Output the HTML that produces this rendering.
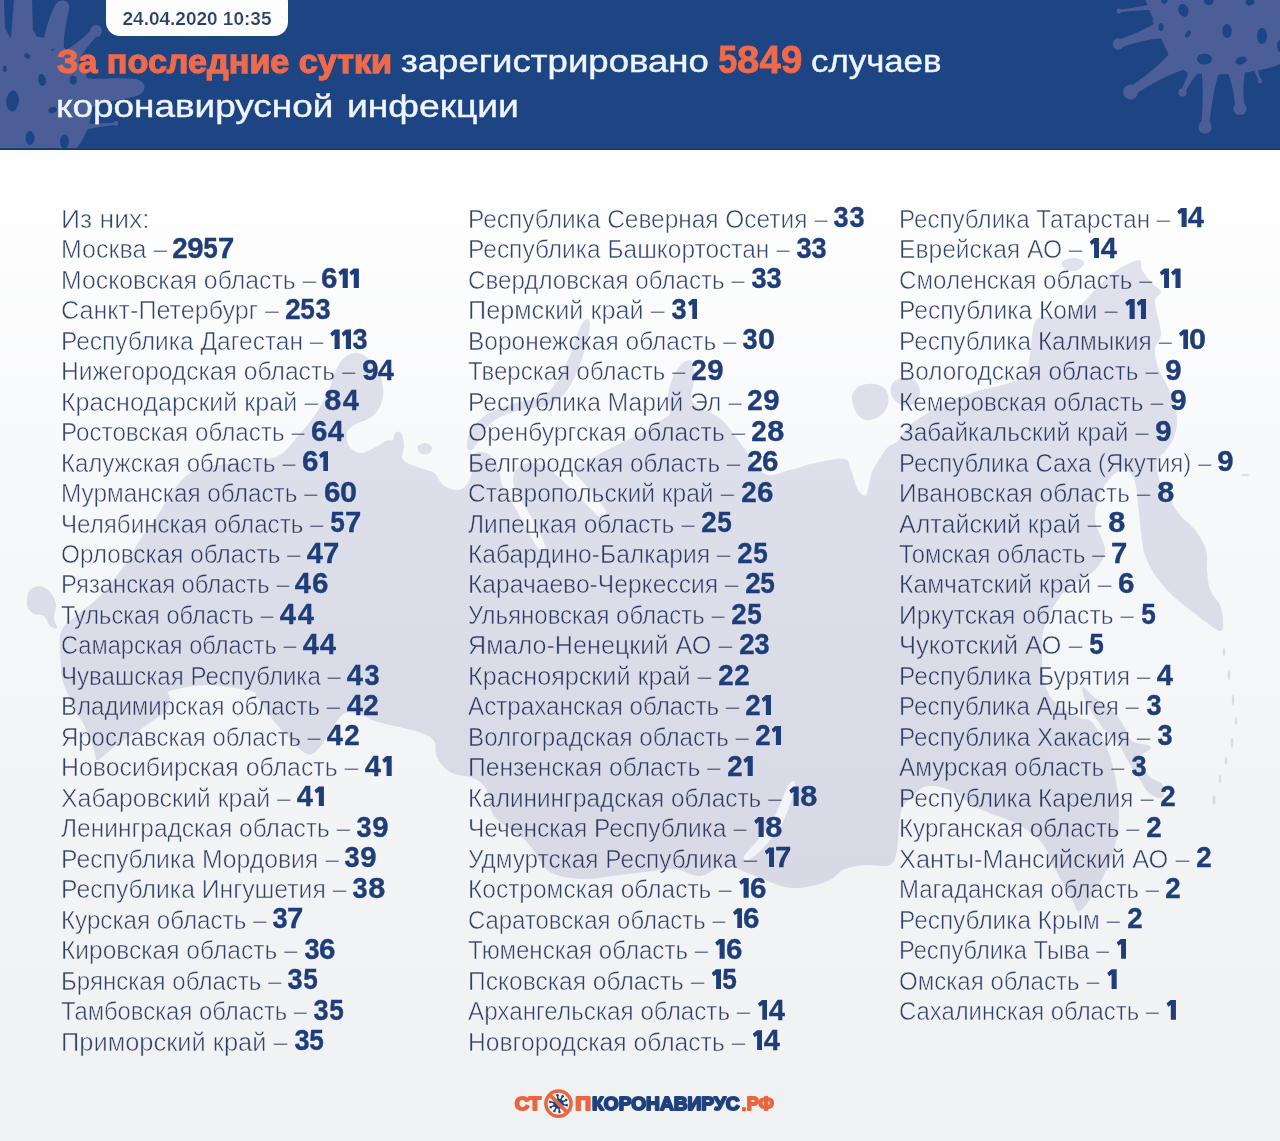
<!DOCTYPE html>
<html lang="ru">
<head>
<meta charset="utf-8">
<title>стопкоронавирус.рф</title>
<style>
html,body{margin:0;padding:0}
body{width:1280px;height:1141px;position:relative;overflow:hidden;background:#f2f3f6;font-family:"Liberation Sans",sans-serif;}
#bg{position:absolute;left:0;top:0;width:1280px;height:1141px;background:linear-gradient(180deg,#ffffff 0px,#fefefe 200px,#f8f9fb 450px,#f3f4f6 800px,#f0f1f3 1141px);}
#map{position:absolute;left:0;top:149px;width:1280px;height:992px}
#hdr{position:absolute;left:0;top:0;width:1280px;height:149.8px;background:#1d4584;overflow:hidden}
#hdrline{position:absolute;left:0;top:147.5px;width:1280px;height:2.3px;background:linear-gradient(180deg,#1d4584,#1b3664 70%,#1b3664)}
#vir{position:absolute;left:0;top:0;width:1280px;height:149px}
#pill{position:absolute;left:105.8px;top:-12px;width:182.4px;height:47.5px;background:#fdfdfe;border-radius:14px}
#date{position:absolute;left:105.8px;top:8.2px;width:182.4px;text-align:center;font-weight:bold;font-size:19px;color:#2b3f68;line-height:22px;white-space:nowrap;-webkit-text-stroke:0.2px #fdfdfe}
.h{position:absolute;white-space:nowrap;color:#eef5fd;transform-origin:0 50%;font-size:32px;line-height:40px;height:40px;-webkit-text-stroke:0.4px #eef5fd}
.h.o{color:#ef6a4b;font-weight:bold;-webkit-text-stroke:1.3px #ef6a4b}
.l{position:absolute;white-space:nowrap;font-size:25.0px;line-height:30px;height:30px;color:#33436a}
.t{display:inline-block;transform-origin:0 50%;-webkit-text-stroke:0.55px #fff;mix-blend-mode:multiply}
.n{position:absolute;white-space:nowrap;font-weight:bold;font-size:29.0px;line-height:30px;height:30px;color:#1e3d79;-webkit-text-stroke:0.35px #1e3d79}
.n i{display:inline-block;font-style:normal;height:30px;vertical-align:top}
.n i b{display:inline-block;transform-origin:0 50%;font-weight:bold}
.n i.one{position:relative}
.n i.one u{position:absolute;left:0;background:#1e3d79;clip-path:polygon(46% 0,100% 0,100% 100%,46% 100%,46% 26%,20% 35%,0 19%)}
#logo{position:absolute;left:0;top:0;width:1280px;height:1141px}
</style>
</head>
<body>
<div id="bg"></div>
<svg id="map" viewBox="0 149 1280 992">
<path fill="rgba(62,66,140,0.145)" d="M61.0,666.0 C60.5,657.2 58.5,640.3 61.0,632.0 C63.5,623.7 69.8,621.7 76.0,616.0 C82.2,610.3 91.7,604.2 98.0,598.0 C104.3,591.8 109.3,584.8 114.0,579.0 C118.7,573.2 121.7,569.5 126.0,563.0 C130.3,556.5 134.7,548.0 140.0,540.0 C145.3,532.0 152.7,523.0 158.0,515.0 C163.3,507.0 166.3,499.2 172.0,492.0 C177.7,484.8 183.2,476.7 192.0,472.0 C200.8,467.3 214.5,465.8 225.0,464.0 C235.5,462.2 245.8,462.5 255.0,461.0 C264.2,459.5 272.8,459.2 280.0,455.0 C287.2,450.8 292.2,442.7 298.0,436.0 C303.8,429.3 310.0,422.3 315.0,415.0 C320.0,407.7 324.5,399.5 328.0,392.0 C331.5,384.5 333.2,375.8 336.0,370.0 C338.8,364.2 341.3,359.8 345.0,357.0 C348.7,354.2 353.5,352.2 358.0,353.0 C362.5,353.8 368.2,357.8 372.0,362.0 C375.8,366.2 379.2,372.5 381.0,378.0 C382.8,383.5 383.5,389.7 383.0,395.0 C382.5,400.3 380.5,406.0 378.0,410.0 C375.5,414.0 371.7,416.7 368.0,419.0 C364.3,421.3 359.5,421.8 356.0,424.0 C352.5,426.2 348.2,428.3 347.0,432.0 C345.8,435.7 346.8,442.5 349.0,446.0 C351.2,449.5 355.8,452.7 360.0,453.0 C364.2,453.3 369.7,450.0 374.0,448.0 C378.3,446.0 382.8,442.3 386.0,441.0 C389.2,439.7 391.5,441.3 393.0,440.0 C394.5,438.7 393.7,434.2 395.0,433.0 C396.3,431.8 399.5,431.0 401.0,433.0 C402.5,435.0 403.7,440.5 404.0,445.0 C404.3,449.5 400.3,456.2 403.0,460.0 C405.7,463.8 414.8,465.8 420.0,468.0 C425.2,470.2 430.2,470.2 434.0,473.0 C437.8,475.8 439.3,482.2 443.0,485.0 C446.7,487.8 452.2,489.8 456.0,490.0 C459.8,490.2 463.3,489.0 466.0,486.0 C468.7,483.0 471.2,476.7 472.0,472.0 C472.8,467.3 470.0,461.3 471.0,458.0 C472.0,454.7 474.8,452.5 478.0,452.0 C481.2,451.5 486.7,452.3 490.0,455.0 C493.3,457.7 496.0,463.2 498.0,468.0 C500.0,472.8 500.7,480.0 502.0,484.0 C503.3,488.0 502.7,486.0 506.0,492.0 C509.3,498.0 516.7,510.7 522.0,520.0 C527.3,529.3 534.2,543.8 538.0,548.0 C541.8,552.2 546.3,550.5 545.0,545.0 C543.7,539.5 535.2,524.7 530.0,515.0 C524.8,505.3 516.3,494.5 514.0,487.0 C511.7,479.5 513.3,474.0 516.0,470.0 C518.7,466.0 524.7,463.5 530.0,463.0 C535.3,462.5 543.5,464.8 548.0,467.0 C552.5,469.2 554.7,473.8 557.0,476.0 C559.3,478.2 557.8,476.0 562.0,480.0 C566.2,484.0 575.7,493.8 582.0,500.0 C588.3,506.2 596.0,515.2 600.0,517.0 C604.0,518.8 607.7,515.5 606.0,511.0 C604.3,506.5 595.3,496.8 590.0,490.0 C584.7,483.2 574.7,474.7 574.0,470.0 C573.3,465.3 580.8,465.2 586.0,462.0 C591.2,458.8 598.5,454.5 605.0,451.0 C611.5,447.5 618.3,444.3 625.0,441.0 C631.7,437.7 639.2,434.3 645.0,431.0 C650.8,427.7 655.8,424.0 660.0,421.0 C664.2,418.0 668.7,417.3 670.0,413.0 C671.3,408.7 667.3,401.3 668.0,395.0 C668.7,388.7 671.3,380.5 674.0,375.0 C676.7,369.5 681.0,364.0 684.0,362.0 C687.0,360.0 690.3,360.0 692.0,363.0 C693.7,366.0 694.2,374.2 694.0,380.0 C693.8,385.8 690.0,393.3 691.0,398.0 C692.0,402.7 694.8,404.3 700.0,408.0 C705.2,411.7 714.7,413.3 722.0,420.0 C729.3,426.7 736.8,439.0 744.0,448.0 C751.2,457.0 757.3,470.3 765.0,474.0 C772.7,477.7 781.7,471.8 790.0,470.0 C798.3,468.2 806.0,464.8 815.0,463.0 C824.0,461.2 838.0,457.8 844.0,459.0 C850.0,460.2 848.7,464.8 851.0,470.0 C853.3,475.2 855.5,485.8 858.0,490.0 C860.5,494.2 864.0,496.7 866.0,495.0 C868.0,493.3 868.8,484.2 870.0,480.0 C871.2,475.8 870.2,475.3 873.0,470.0 C875.8,464.7 882.8,452.8 887.0,448.0 C891.2,443.2 894.0,445.0 898.0,441.0 C902.0,437.0 903.7,430.0 911.0,424.0 C918.3,418.0 931.5,410.3 942.0,405.0 C952.5,399.7 964.5,395.2 974.0,392.0 C983.5,388.8 991.8,388.0 999.0,386.0 C1006.2,384.0 1012.3,382.0 1017.0,380.0 C1021.7,378.0 1024.8,378.2 1027.0,374.0 C1029.2,369.8 1028.5,364.0 1030.0,355.0 C1031.5,346.0 1031.8,326.3 1036.0,320.0 C1040.2,313.7 1048.7,318.5 1055.0,317.0 C1061.3,315.5 1066.7,316.2 1074.0,311.0 C1081.3,305.8 1091.8,292.8 1099.0,286.0 C1106.2,279.2 1110.3,274.3 1117.0,270.0 C1123.7,265.7 1134.8,260.0 1139.0,260.0 C1143.2,260.0 1139.8,266.2 1142.0,270.0 C1144.2,273.8 1148.8,279.3 1152.0,283.0 C1155.2,286.7 1160.5,288.8 1161.0,292.0 C1161.5,295.2 1155.0,295.2 1155.0,302.0 C1155.0,308.8 1161.0,325.2 1161.0,333.0 C1161.0,340.8 1155.5,343.3 1155.0,349.0 C1154.5,354.7 1155.5,359.8 1158.0,367.0 C1160.5,374.2 1166.8,383.7 1170.0,392.0 C1173.2,400.3 1176.3,409.5 1177.0,417.0 C1177.7,424.5 1175.8,431.5 1174.0,437.0 C1172.2,442.5 1168.8,445.8 1166.0,450.0 C1163.2,454.2 1158.0,456.7 1157.0,462.0 C1156.0,467.3 1157.8,475.7 1160.0,482.0 C1162.2,488.3 1166.7,494.5 1170.0,500.0 C1173.3,505.5 1175.8,510.0 1180.0,515.0 C1184.2,520.0 1190.7,524.2 1195.0,530.0 C1199.3,535.8 1204.0,543.3 1206.0,550.0 C1208.0,556.7 1206.3,563.3 1207.0,570.0 C1207.7,576.7 1207.8,584.2 1210.0,590.0 C1212.2,595.8 1217.8,600.0 1220.0,605.0 C1222.2,610.0 1223.0,615.7 1223.0,620.0 C1223.0,624.3 1224.3,631.8 1220.0,631.0 C1215.7,630.2 1205.0,621.0 1197.0,615.0 C1189.0,609.0 1179.0,601.7 1172.0,595.0 C1165.0,588.3 1159.5,581.7 1155.0,575.0 C1150.5,568.3 1147.2,560.8 1145.0,555.0 C1142.8,549.2 1143.0,547.2 1142.0,540.0 C1141.0,532.8 1140.2,521.7 1139.0,512.0 C1137.8,502.3 1137.2,489.0 1135.0,482.0 C1132.8,475.0 1129.8,471.0 1126.0,470.0 C1122.2,469.0 1116.3,471.8 1112.0,476.0 C1107.7,480.2 1102.8,487.7 1100.0,495.0 C1097.2,502.3 1094.2,510.8 1095.0,520.0 C1095.8,529.2 1105.0,541.7 1105.0,550.0 C1105.0,558.3 1099.2,565.0 1095.0,570.0 C1090.8,575.0 1085.8,575.5 1080.0,580.0 C1074.2,584.5 1065.8,589.5 1060.0,597.0 C1054.2,604.5 1048.0,616.2 1045.0,625.0 C1042.0,633.8 1042.0,640.0 1042.0,650.0 C1042.0,660.0 1042.3,675.8 1045.0,685.0 C1047.7,694.2 1052.2,699.5 1058.0,705.0 C1063.8,710.5 1074.3,715.2 1080.0,718.0 C1085.7,720.8 1087.5,717.0 1092.0,722.0 C1096.5,727.0 1103.2,739.0 1107.0,748.0 C1110.8,757.0 1113.0,766.5 1115.0,776.0 C1117.0,785.5 1118.7,794.8 1119.0,805.0 C1119.3,815.2 1118.7,827.2 1117.0,837.0 C1115.3,846.8 1113.0,854.3 1109.0,864.0 C1105.0,873.7 1097.7,887.3 1093.0,895.0 C1088.3,902.7 1083.7,907.5 1081.0,910.0 C1078.3,912.5 1078.8,912.5 1077.0,910.0 C1075.2,907.5 1073.7,901.8 1070.0,895.0 C1066.3,888.2 1059.7,877.7 1055.0,869.0 C1050.3,860.3 1048.3,850.5 1042.0,843.0 C1035.7,835.5 1026.2,829.2 1017.0,824.0 C1007.8,818.8 994.5,815.2 987.0,812.0 C979.5,808.8 978.2,808.7 972.0,805.0 C965.8,801.3 957.5,793.2 950.0,790.0 C942.5,786.8 933.3,784.8 927.0,786.0 C920.7,787.2 916.3,792.7 912.0,797.0 C907.7,801.3 903.5,803.2 901.0,812.0 C898.5,820.8 898.8,841.2 897.0,850.0 C895.2,858.8 895.0,862.5 890.0,865.0 C885.0,867.5 874.5,864.3 867.0,865.0 C859.5,865.7 851.2,866.5 845.0,869.0 C838.8,871.5 836.3,877.0 830.0,880.0 C823.7,883.0 814.5,885.8 807.0,887.0 C799.5,888.2 793.7,888.8 785.0,887.0 C776.3,885.2 765.0,879.5 755.0,876.0 C745.0,872.5 734.2,866.0 725.0,866.0 C715.8,866.0 708.3,875.5 700.0,876.0 C691.7,876.5 684.3,869.7 675.0,869.0 C665.7,868.3 654.5,870.8 644.0,872.0 C633.5,873.2 622.5,874.8 612.0,876.0 C601.5,877.2 591.3,879.7 581.0,879.0 C570.7,878.3 558.3,877.3 550.0,872.0 C541.7,866.7 536.2,853.2 531.0,847.0 C525.8,840.8 524.2,839.2 519.0,835.0 C513.8,830.8 504.7,826.2 500.0,822.0 C495.3,817.8 493.2,815.2 491.0,810.0 C488.8,804.8 489.7,796.2 487.0,791.0 C484.3,785.8 481.2,782.2 475.0,779.0 C468.8,775.8 456.3,775.7 450.0,772.0 C443.7,768.3 439.7,762.2 437.0,757.0 C434.3,751.8 437.0,745.2 434.0,741.0 C431.0,736.8 428.3,735.2 419.0,732.0 C409.7,728.8 387.2,724.7 378.0,722.0 C368.8,719.3 369.5,717.5 364.0,716.0 C358.5,714.5 350.3,710.8 345.0,713.0 C339.7,715.2 336.2,723.3 332.0,729.0 C327.8,734.7 324.2,742.8 320.0,747.0 C315.8,751.2 312.7,756.0 307.0,754.0 C301.3,752.0 292.2,741.3 286.0,735.0 C279.8,728.7 274.8,722.3 270.0,716.0 C265.2,709.7 260.2,701.2 257.0,697.0 C253.8,692.8 259.3,693.0 251.0,691.0 C242.7,689.0 220.5,685.0 207.0,685.0 C193.5,685.0 176.2,689.0 170.0,691.0 C163.8,693.0 170.5,693.8 170.0,697.0 C169.5,700.2 170.2,705.8 167.0,710.0 C163.8,714.2 156.8,717.8 151.0,722.0 C145.2,726.2 138.2,730.8 132.0,735.0 C125.8,739.2 119.7,742.8 114.0,747.0 C108.3,751.2 101.2,758.8 98.0,760.0 C94.8,761.2 96.5,758.2 95.0,754.0 C93.5,749.8 92.2,742.3 89.0,735.0 C85.8,727.7 80.2,718.3 76.0,710.0 C71.8,701.7 66.5,692.3 64.0,685.0 C61.5,677.7 61.5,674.8 61.0,666.0Z"/>
<path fill="rgba(62,66,140,0.145)" d="M27.0,600.0 C27.3,597.0 27.8,592.3 30.0,590.0 C32.2,587.7 36.7,585.7 40.0,586.0 C43.3,586.3 47.3,589.0 50.0,592.0 C52.7,595.0 55.3,599.7 56.0,604.0 C56.7,608.3 53.8,614.0 54.0,618.0 C54.2,622.0 57.7,626.7 57.0,628.0 C56.3,629.3 52.2,628.0 50.0,626.0 C47.8,624.0 46.7,618.0 44.0,616.0 C41.3,614.0 36.7,615.3 34.0,614.0 C31.3,612.7 29.2,610.3 28.0,608.0 C26.8,605.7 26.7,603.0 27.0,600.0Z"/>
<path fill="rgba(62,66,140,0.145)" d="M467.0,447.0 C466.7,444.0 467.5,436.8 470.0,432.0 C472.5,427.2 477.0,422.0 482.0,418.0 C487.0,414.0 493.7,410.7 500.0,408.0 C506.3,405.3 512.8,404.0 520.0,402.0 C527.2,400.0 536.7,399.7 543.0,396.0 C549.3,392.3 553.5,386.8 558.0,380.0 C562.5,373.2 566.5,363.3 570.0,355.0 C573.5,346.7 576.5,335.8 579.0,330.0 C581.5,324.2 583.2,321.2 585.0,320.0 C586.8,318.8 589.8,318.8 590.0,323.0 C590.2,327.2 588.2,336.8 586.0,345.0 C583.8,353.2 580.5,364.0 577.0,372.0 C573.5,380.0 569.8,387.5 565.0,393.0 C560.2,398.5 555.2,402.2 548.0,405.0 C540.8,407.8 529.7,408.2 522.0,410.0 C514.3,411.8 507.5,413.5 502.0,416.0 C496.5,418.5 492.8,421.0 489.0,425.0 C485.2,429.0 481.8,435.8 479.0,440.0 C476.2,444.2 474.0,448.8 472.0,450.0 C470.0,451.2 467.3,450.0 467.0,447.0Z"/>
<path fill="rgba(62,66,140,0.145)" d="M418.0,446.0 C419.0,444.3 423.7,442.7 426.0,443.0 C428.3,443.3 431.7,446.2 432.0,448.0 C432.3,449.8 430.0,453.2 428.0,454.0 C426.0,454.8 421.7,454.3 420.0,453.0 C418.3,451.7 417.0,447.7 418.0,446.0Z"/>
<path fill="rgba(62,66,140,0.145)" d="M852.0,396.0 C852.7,391.7 856.3,388.0 860.0,386.0 C863.7,384.0 869.7,383.3 874.0,384.0 C878.3,384.7 883.7,386.7 886.0,390.0 C888.3,393.3 889.0,399.7 888.0,404.0 C887.0,408.3 883.7,413.3 880.0,416.0 C876.3,418.7 870.0,420.7 866.0,420.0 C862.0,419.3 858.3,416.0 856.0,412.0 C853.7,408.0 851.3,400.3 852.0,396.0Z"/>
<path fill="rgba(62,66,140,0.145)" d="M892.0,384.0 C893.7,381.0 898.3,378.7 902.0,378.0 C905.7,377.3 911.0,377.7 914.0,380.0 C917.0,382.3 920.0,388.0 920.0,392.0 C920.0,396.0 917.3,402.0 914.0,404.0 C910.7,406.0 903.7,405.3 900.0,404.0 C896.3,402.7 893.3,399.3 892.0,396.0 C890.7,392.7 890.3,387.0 892.0,384.0Z"/>
<path fill="rgba(62,66,140,0.145)" d="M1083.0,687.0 C1084.7,687.0 1088.8,692.8 1094.0,697.0 C1099.2,701.2 1108.8,706.8 1114.0,712.0 C1119.2,717.2 1122.0,723.2 1125.0,728.0 C1128.0,732.8 1127.7,737.8 1132.0,741.0 C1136.3,744.2 1149.7,744.2 1151.0,747.0 C1152.3,749.8 1140.3,753.2 1140.0,758.0 C1139.7,762.8 1145.2,771.5 1149.0,776.0 C1152.8,780.5 1160.8,781.3 1163.0,785.0 C1165.2,788.7 1164.3,796.7 1162.0,798.0 C1159.7,799.3 1152.7,796.0 1149.0,793.0 C1145.3,790.0 1143.3,785.0 1140.0,780.0 C1136.7,775.0 1132.7,769.2 1129.0,763.0 C1125.3,756.8 1122.3,748.8 1118.0,743.0 C1113.7,737.2 1107.3,733.2 1103.0,728.0 C1098.7,722.8 1095.2,717.2 1092.0,712.0 C1088.8,706.8 1085.5,701.2 1084.0,697.0 C1082.5,692.8 1081.3,687.0 1083.0,687.0Z"/>
<path fill="rgba(62,66,140,0.145)" d="M1062.0,262.0 C1063.3,260.0 1070.3,258.0 1074.0,258.0 C1077.7,258.0 1083.3,260.0 1084.0,262.0 C1084.7,264.0 1081.0,268.7 1078.0,270.0 C1075.0,271.3 1068.7,271.3 1066.0,270.0 C1063.3,268.7 1060.7,264.0 1062.0,262.0Z"/>
<path fill="#f3f4f7" d="M789.0,784.0 C792.5,778.8 796.2,780.3 795.0,787.0 C793.8,793.7 787.8,813.3 782.0,824.0 C776.2,834.7 765.7,845.0 760.0,851.0 C754.3,857.0 750.7,859.2 748.0,860.0 C745.3,860.8 742.7,859.0 744.0,856.0 C745.3,853.0 751.0,848.3 756.0,842.0 C761.0,835.7 768.5,827.7 774.0,818.0 C779.5,808.3 785.5,789.2 789.0,784.0Z"/>
<ellipse cx="1224" cy="652" rx="1.2" ry="4" fill="rgba(62,66,140,0.145)"/>
<ellipse cx="1229" cy="675" rx="1.2" ry="5" fill="rgba(62,66,140,0.145)"/>
<ellipse cx="1233" cy="700" rx="1.2" ry="5" fill="rgba(62,66,140,0.145)"/>
<ellipse cx="1236" cy="721" rx="1.2" ry="4" fill="rgba(62,66,140,0.145)"/>
<ellipse cx="1232" cy="743" rx="1.3" ry="5" fill="rgba(62,66,140,0.145)"/>
<ellipse cx="1226" cy="761" rx="1.3" ry="4" fill="rgba(62,66,140,0.145)"/>
<ellipse cx="1220" cy="779" rx="1.3" ry="4" fill="rgba(62,66,140,0.145)"/>
<ellipse cx="1214" cy="800" rx="1.4" ry="5" fill="rgba(62,66,140,0.145)"/>
<ellipse cx="1245" cy="475" rx="4" ry="1.2" fill="rgba(62,66,140,0.145)"/>
</svg>
<div id="hdr">
<svg id="vir" viewBox="0 0 1280 149">
<circle cx="1241" cy="-27" r="99" fill="#4c5e98"/>
<path d="M1152,20 L1160,36 L1172,62 L1188,73 L1215,75 L1250,72 L1250,20 Z" fill="#4c5e98"/>
<path d="M1159.5,2.0 Q1146.3,6.4 1118.8,9.7 L1119.2,12.3 Q1146.6,8.9 1160.5,10.0Z" fill="#4c5e98"/><circle cx="1119" cy="11" r="2.4" fill="#4c5e98"/>
<path d="M1162.5,17.6 Q1149.0,29.5 1117.2,40.2 L1119.8,47.8 Q1151.6,37.1 1169.5,38.4Z" fill="#4c5e98"/><circle cx="1118.5" cy="44" r="5.8" fill="#4c5e98"/>
<path d="M1177.7,42.5 Q1165.1,63.4 1127.9,88.2 L1133.1,95.8 Q1170.2,71.0 1194.3,67.5Z" fill="#4c5e98"/><circle cx="1130.5" cy="92" r="7.4" fill="#4c5e98"/>
<path d="M1189.8,62.8 Q1189.6,73.7 1180.5,91.5 L1184.5,93.5 Q1193.5,75.7 1202.2,69.2Z" fill="#4c5e98"/><circle cx="1182.5" cy="92.5" r="4.1" fill="#4c5e98"/>
<path d="M1200.0,63.0 Q1205.0,84.4 1201.0,126.6 L1209.0,127.4 Q1213.0,85.2 1222.0,65.0Z" fill="#4c5e98"/><circle cx="1205" cy="127" r="6.6" fill="#4c5e98"/>
<path d="M1225.0,67.0 Q1232.9,80.4 1235.6,108.9 L1244.4,108.1 Q1241.7,79.6 1247.0,65.0Z" fill="#4c5e98"/><circle cx="1240" cy="108.5" r="6.6" fill="#4c5e98"/>
<path d="M1249.2,63.4 Q1254.2,68.7 1258.9,81.4 L1261.1,80.6 Q1256.4,67.9 1256.8,60.6Z" fill="#4c5e98"/><circle cx="1260" cy="81" r="2.2" fill="#4c5e98"/>
<ellipse cx="1164.7" cy="0" rx="3" ry="4" fill="#1d4584" transform="rotate(20 1164.7 0)"/>
<ellipse cx="1183.4" cy="10.3" rx="5" ry="6.5" fill="#1d4584" transform="rotate(-20 1183.4 10.3)"/>
<ellipse cx="1208.7" cy="1" rx="5" ry="4" fill="#1d4584" transform="rotate(0 1208.7 1)"/>
<ellipse cx="1250" cy="2" rx="4.5" ry="3.5" fill="#1d4584" transform="rotate(-20 1250 2)"/>
<ellipse cx="1161" cy="27" rx="2.6" ry="4" fill="#1d4584" transform="rotate(0 1161 27)"/>
<ellipse cx="1188" cy="34" rx="2.2" ry="4" fill="#1d4584" transform="rotate(30 1188 34)"/>
<ellipse cx="1227" cy="31" rx="4.8" ry="7" fill="#1d4584" transform="rotate(0 1227 31)"/>
<ellipse cx="1262" cy="36" rx="5" ry="8" fill="#1d4584" transform="rotate(0 1262 36)"/>
<ellipse cx="1204.5" cy="59" rx="7.5" ry="5.5" fill="#1d4584" transform="rotate(0 1204.5 59)"/>
<ellipse cx="1241" cy="60.5" rx="6" ry="3.6" fill="#1d4584" transform="rotate(-20 1241 60.5)"/>
<ellipse cx="1280" cy="46" rx="3" ry="6" fill="#1d4584" transform="rotate(0 1280 46)"/>
<ellipse cx="28" cy="104" rx="64" ry="68" fill="#4c5e98"/>
<path fill="#4c5e98" d="M0,0 L4,0 L5,28 L14,45 L0,60 Z"/>
<path fill="#4c5e98" d="M14,0 L32,0 L33,30 L42,45 L10,50 Z"/>
<path fill="#4c5e98" d="M42,46 C46,28 51,12 56,4 C60,-2 71,0 69,9 C67,20 63,34 64,50 Z"/>
<path d="M77.2,64.9 Q81.5,51.9 98.9,33.8 L93.1,28.2 Q75.7,46.3 62.8,51.1Z" fill="#4c5e98"/><circle cx="96" cy="31" r="6" fill="#4c5e98"/>
<path fill="#4c5e98" d="M78,78 C100,80 120,77 136,79 C147,81 147,92 138,95.5 C124,100 104,100 82,112 Z"/>
<path d="M82.4,131.0 Q93.4,127.1 116.1,124.8 L115.9,122.2 Q93.1,124.6 81.6,123.0Z" fill="#4c5e98"/><circle cx="116" cy="123.5" r="2.4" fill="#4c5e98"/>
<ellipse cx="27.3" cy="56" rx="3.2" ry="2.4" fill="#1d4584" transform="rotate(30 27.3 56)"/>
<ellipse cx="4.9" cy="68.7" rx="2" ry="3.2" fill="#1d4584" transform="rotate(0 4.9 68.7)"/>
<ellipse cx="42" cy="80" rx="3.8" ry="6" fill="#1d4584" transform="rotate(-10 42 80)"/>
<ellipse cx="73.2" cy="80" rx="3.6" ry="4.6" fill="#1d4584" transform="rotate(-10 73.2 80)"/>
<ellipse cx="12.6" cy="101" rx="6.3" ry="10.5" fill="#1d4584" transform="rotate(5 12.6 101)"/>
<ellipse cx="52.6" cy="110" rx="4.5" ry="3" fill="#1d4584" transform="rotate(-20 52.6 110)"/>
<ellipse cx="30" cy="138" rx="4.5" ry="7" fill="#1d4584" transform="rotate(0 30 138)"/>
<ellipse cx="64.5" cy="141.6" rx="4.5" ry="7" fill="#1d4584" transform="rotate(0 64.5 141.6)"/>
<ellipse cx="52.6" cy="49.8" rx="1.2" ry="1" fill="#1d4584" transform="rotate(0 52.6 49.8)"/>
</svg>
<div id="pill"></div>
<div id="date">24.04.2020 10:35</div>
<div class="h o" style="left:57.33px;top:42.07px;font-size:33px;transform:scaleX(1.0345)">За последние сутки</div>
<div class="h" style="left:401.12px;top:42.03px;font-size:30.8px;transform:scaleX(1.1874)">зарегистрировано</div>
<div class="h" style="left:811.02px;top:42.03px;font-size:30.8px;transform:scaleX(1.1304)">случаев</div>
<div class="h" style="left:56.26px;top:87.33px;font-size:30.8px;transform:scaleX(1.1979)">коронавирусной</div>
<div class="h" style="left:346.92px;top:87.33px;font-size:30.8px;transform:scaleX(1.2089)">инфекции</div>
<div class="n big" style="left:719.00px;top:40.33px;font-size:38.0px;line-height:40px;height:40px;color:#ef6a4b;-webkit-text-stroke:0.8px #ef6a4b"><i style="width:18.97px"><b style="transform:translateX(-0.65px) scaleX(0.898)">5</b></i><i style="width:21.83px"><b style="transform:translateX(-0.88px) scaleX(1.057)">8</b></i><i style="width:22.36px"><b style="transform:translateX(-0.18px) scaleX(1.000)">4</b></i><i style="width:20.63px"><b style="transform:translateX(-0.93px) scaleX(1.012)">9</b></i></div>
</div>
<div id="hdrline"></div>
<div class="l" style="left:60.85px;top:203.84px"><span class="t" style="transform:scaleX(1.0595)">Из них:</span></div>
<div class="l" style="left:60.85px;top:234.31px"><span class="t" style="transform:scaleX(0.9995)">Москва –</span></div>
<div class="n" style="left:173.45px;top:232.92px;"><i style="width:14.95px"><b style="transform:translateX(-0.79px) scaleX(0.956)">2</b></i><i style="width:15.85px"><b style="transform:translateX(-0.84px) scaleX(1.014)">9</b></i><i style="width:14.60px"><b style="transform:translateX(-0.63px) scaleX(0.901)">5</b></i><i style="width:15.35px"><b style="transform:translateX(-1.08px) scaleX(1.010)">7</b></i></div>
<div class="l" style="left:60.85px;top:264.78px"><span class="t" style="transform:scaleX(0.9921)">Московская область –</span></div>
<div class="n" style="left:322.20px;top:263.39px;"><i style="width:16.17px"><b style="transform:translateX(-0.90px) scaleX(1.017)">6</b></i><i class="one" style="width:11.07px"><u style="top:5.10px;width:9.50px;height:19.95px"></u></i><i class="one" style="width:11.07px"><u style="top:5.10px;width:9.50px;height:19.95px"></u></i></div>
<div class="l" style="left:60.85px;top:295.25px"><span class="t" style="transform:scaleX(1.0045)">Санкт-Петербург –</span></div>
<div class="n" style="left:285.95px;top:293.86px;"><i style="width:15.12px"><b style="transform:translateX(-0.79px) scaleX(0.956)">2</b></i><i style="width:14.78px"><b style="transform:translateX(-0.63px) scaleX(0.901)">5</b></i><i style="width:15.28px"><b style="transform:translateX(-0.45px) scaleX(0.937)">3</b></i></div>
<div class="l" style="left:60.85px;top:325.72px"><span class="t" style="transform:scaleX(0.9794)">Республика Дагестан –</span></div>
<div class="n" style="left:330.20px;top:324.33px;"><i class="one" style="width:11.32px"><u style="top:5.10px;width:9.50px;height:19.95px"></u></i><i class="one" style="width:11.32px"><u style="top:5.10px;width:9.50px;height:19.95px"></u></i><i style="width:15.67px"><b style="transform:translateX(-0.45px) scaleX(0.937)">3</b></i></div>
<div class="l" style="left:60.85px;top:356.19px"><span class="t" style="transform:scaleX(0.9862)">Нижегородская область –</span></div>
<div class="n" style="left:362.70px;top:354.80px;"><i style="width:15.60px"><b style="transform:translateX(-0.84px) scaleX(1.014)">9</b></i><i style="width:16.90px"><b style="transform:translateX(-0.26px) scaleX(1.001)">4</b></i></div>
<div class="l" style="left:60.85px;top:386.66px"><span class="t" style="transform:scaleX(1.0033)">Краснодарский край –</span></div>
<div class="n" style="left:325.20px;top:385.27px;"><i style="width:17.35px"><b style="transform:translateX(-0.80px) scaleX(1.058)">8</b></i><i style="width:17.75px"><b style="transform:translateX(-0.26px) scaleX(1.001)">4</b></i></div>
<div class="l" style="left:60.85px;top:417.13px"><span class="t" style="transform:scaleX(0.9675)">Ростовская область –</span></div>
<div class="n" style="left:311.70px;top:415.74px;"><i style="width:15.85px"><b style="transform:translateX(-0.90px) scaleX(1.017)">6</b></i><i style="width:17.15px"><b style="transform:translateX(-0.26px) scaleX(1.001)">4</b></i></div>
<div class="l" style="left:60.85px;top:447.60px"><span class="t" style="transform:scaleX(0.9603)">Калужская область –</span></div>
<div class="n" style="left:302.70px;top:446.21px;"><i style="width:16.25px"><b style="transform:translateX(-0.90px) scaleX(1.017)">6</b></i><i class="one" style="width:11.15px"><u style="top:5.10px;width:9.50px;height:19.95px"></u></i></div>
<div class="l" style="left:60.85px;top:478.07px"><span class="t" style="transform:scaleX(0.9724)">Мурманская область –</span></div>
<div class="n" style="left:324.70px;top:476.68px;"><i style="width:16.35px"><b style="transform:translateX(-0.90px) scaleX(1.017)">6</b></i><i style="width:16.65px"><b style="transform:translateX(-1.04px) scaleX(1.055)">0</b></i></div>
<div class="l" style="left:60.85px;top:508.54px"><span class="t" style="transform:scaleX(0.9656)">Челябинская область –</span></div>
<div class="n" style="left:330.95px;top:507.15px;"><i style="width:14.65px"><b style="transform:translateX(-0.63px) scaleX(0.901)">5</b></i><i style="width:15.40px"><b style="transform:translateX(-1.08px) scaleX(1.010)">7</b></i></div>
<div class="l" style="left:60.85px;top:539.01px"><span class="t" style="transform:scaleX(0.9739)">Орловская область –</span></div>
<div class="n" style="left:306.70px;top:537.62px;"><i style="width:17.65px"><b style="transform:translateX(-0.26px) scaleX(1.001)">4</b></i><i style="width:15.85px"><b style="transform:translateX(-1.08px) scaleX(1.010)">7</b></i></div>
<div class="l" style="left:60.85px;top:569.48px"><span class="t" style="transform:scaleX(0.9502)">Рязанская область –</span></div>
<div class="n" style="left:295.45px;top:568.09px;"><i style="width:17.80px"><b style="transform:translateX(-0.26px) scaleX(1.001)">4</b></i><i style="width:16.50px"><b style="transform:translateX(-0.90px) scaleX(1.017)">6</b></i></div>
<div class="l" style="left:60.85px;top:599.95px"><span class="t" style="transform:scaleX(0.9430)">Тульская область –</span></div>
<div class="n" style="left:280.20px;top:598.56px;"><i style="width:17.35px"><b style="transform:translateX(-0.26px) scaleX(1.001)">4</b></i><i style="width:17.35px"><b style="transform:translateX(-0.26px) scaleX(1.001)">4</b></i></div>
<div class="l" style="left:60.85px;top:630.42px"><span class="t" style="transform:scaleX(0.9453)">Самарская область –</span></div>
<div class="n" style="left:302.70px;top:629.03px;"><i style="width:17.35px"><b style="transform:translateX(-0.26px) scaleX(1.001)">4</b></i><i style="width:17.35px"><b style="transform:translateX(-0.26px) scaleX(1.001)">4</b></i></div>
<div class="l" style="left:60.85px;top:660.89px"><span class="t" style="transform:scaleX(0.9625)">Чувашская Республика –</span></div>
<div class="n" style="left:347.20px;top:659.50px;"><i style="width:17.40px"><b style="transform:translateX(-0.26px) scaleX(1.001)">4</b></i><i style="width:15.35px"><b style="transform:translateX(-0.45px) scaleX(0.937)">3</b></i></div>
<div class="l" style="left:60.85px;top:691.36px"><span class="t" style="transform:scaleX(0.9607)">Владимирская область –</span></div>
<div class="n" style="left:346.70px;top:689.97px;"><i style="width:17.30px"><b style="transform:translateX(-0.26px) scaleX(1.001)">4</b></i><i style="width:15.10px"><b style="transform:translateX(-0.79px) scaleX(0.956)">2</b></i></div>
<div class="l" style="left:60.85px;top:721.83px"><span class="t" style="transform:scaleX(0.9567)">Ярославская область –</span></div>
<div class="n" style="left:327.20px;top:720.44px;"><i style="width:17.55px"><b style="transform:translateX(-0.26px) scaleX(1.001)">4</b></i><i style="width:15.35px"><b style="transform:translateX(-0.79px) scaleX(0.956)">2</b></i></div>
<div class="l" style="left:60.85px;top:752.30px"><span class="t" style="transform:scaleX(0.9936)">Новосибирская область –</span></div>
<div class="n" style="left:364.95px;top:750.91px;"><i style="width:17.25px"><b style="transform:translateX(-0.26px) scaleX(1.001)">4</b></i><i class="one" style="width:10.85px"><u style="top:5.10px;width:9.50px;height:19.95px"></u></i></div>
<div class="l" style="left:60.85px;top:782.77px"><span class="t" style="transform:scaleX(0.9956)">Хабаровский край –</span></div>
<div class="n" style="left:297.20px;top:781.38px;"><i style="width:17.25px"><b style="transform:translateX(-0.26px) scaleX(1.001)">4</b></i><i class="one" style="width:10.85px"><u style="top:5.10px;width:9.50px;height:19.95px"></u></i></div>
<div class="l" style="left:60.85px;top:813.24px"><span class="t" style="transform:scaleX(0.9795)">Ленинградская область –</span></div>
<div class="n" style="left:357.20px;top:811.85px;"><i style="width:15.75px"><b style="transform:translateX(-0.45px) scaleX(0.937)">3</b></i><i style="width:16.50px"><b style="transform:translateX(-0.84px) scaleX(1.014)">9</b></i></div>
<div class="l" style="left:60.85px;top:843.71px"><span class="t" style="transform:scaleX(0.9895)">Республика Мордовия –</span></div>
<div class="n" style="left:345.45px;top:842.32px;"><i style="width:15.75px"><b style="transform:translateX(-0.45px) scaleX(0.937)">3</b></i><i style="width:16.50px"><b style="transform:translateX(-0.84px) scaleX(1.014)">9</b></i></div>
<div class="l" style="left:60.85px;top:874.18px"><span class="t" style="transform:scaleX(0.9885)">Республика Ингушетия –</span></div>
<div class="n" style="left:353.45px;top:872.79px;"><i style="width:15.75px"><b style="transform:translateX(-0.45px) scaleX(0.937)">3</b></i><i style="width:17.40px"><b style="transform:translateX(-0.80px) scaleX(1.058)">8</b></i></div>
<div class="l" style="left:60.85px;top:904.65px"><span class="t" style="transform:scaleX(0.9667)">Курская область –</span></div>
<div class="n" style="left:273.45px;top:903.26px;"><i style="width:14.45px"><b style="transform:translateX(-0.45px) scaleX(0.937)">3</b></i><i style="width:14.70px"><b style="transform:translateX(-1.08px) scaleX(1.010)">7</b></i></div>
<div class="l" style="left:60.85px;top:935.12px"><span class="t" style="transform:scaleX(0.9814)">Кировская область –</span></div>
<div class="n" style="left:304.70px;top:933.73px;"><i style="width:15.75px"><b style="transform:translateX(-0.45px) scaleX(0.937)">3</b></i><i style="width:16.50px"><b style="transform:translateX(-0.90px) scaleX(1.017)">6</b></i></div>
<div class="l" style="left:60.85px;top:965.59px"><span class="t" style="transform:scaleX(0.9617)">Брянская область –</span></div>
<div class="n" style="left:288.45px;top:964.20px;"><i style="width:15.75px"><b style="transform:translateX(-0.45px) scaleX(0.937)">3</b></i><i style="width:15.25px"><b style="transform:translateX(-0.63px) scaleX(0.901)">5</b></i></div>
<div class="l" style="left:60.85px;top:996.06px"><span class="t" style="transform:scaleX(0.9541)">Тамбовская область –</span></div>
<div class="n" style="left:313.95px;top:994.67px;"><i style="width:15.65px"><b style="transform:translateX(-0.45px) scaleX(0.937)">3</b></i><i style="width:15.15px"><b style="transform:translateX(-0.63px) scaleX(0.901)">5</b></i></div>
<div class="l" style="left:60.85px;top:1026.53px"><span class="t" style="transform:scaleX(1.0177)">Приморский край –</span></div>
<div class="n" style="left:294.70px;top:1025.14px;"><i style="width:15.75px"><b style="transform:translateX(-0.45px) scaleX(0.937)">3</b></i><i style="width:15.25px"><b style="transform:translateX(-0.63px) scaleX(0.901)">5</b></i></div>
<div class="l" style="left:468.20px;top:203.84px"><span class="t" style="transform:scaleX(0.9773)">Республика Северная Осетия –</span></div>
<div class="n" style="left:834.20px;top:202.45px;"><i style="width:15.40px"><b style="transform:translateX(-0.45px) scaleX(0.937)">3</b></i><i style="width:15.40px"><b style="transform:translateX(-0.45px) scaleX(0.937)">3</b></i></div>
<div class="l" style="left:468.20px;top:234.31px"><span class="t" style="transform:scaleX(0.9795)">Республика Башкортостан –</span></div>
<div class="n" style="left:796.70px;top:232.92px;"><i style="width:15.40px"><b style="transform:translateX(-0.45px) scaleX(0.937)">3</b></i><i style="width:15.40px"><b style="transform:translateX(-0.45px) scaleX(0.937)">3</b></i></div>
<div class="l" style="left:468.20px;top:264.78px"><span class="t" style="transform:scaleX(0.9663)">Свердловская область –</span></div>
<div class="n" style="left:751.70px;top:263.39px;"><i style="width:15.40px"><b style="transform:translateX(-0.45px) scaleX(0.937)">3</b></i><i style="width:15.40px"><b style="transform:translateX(-0.45px) scaleX(0.937)">3</b></i></div>
<div class="l" style="left:468.20px;top:295.25px"><span class="t" style="transform:scaleX(1.0100)">Пермский край –</span></div>
<div class="n" style="left:672.20px;top:293.86px;"><i style="width:15.75px"><b style="transform:translateX(-0.45px) scaleX(0.937)">3</b></i><i class="one" style="width:11.40px"><u style="top:5.10px;width:9.50px;height:19.95px"></u></i></div>
<div class="l" style="left:468.20px;top:325.72px"><span class="t" style="transform:scaleX(0.9789)">Воронежская область –</span></div>
<div class="n" style="left:743.45px;top:324.33px;"><i style="width:15.60px"><b style="transform:translateX(-0.45px) scaleX(0.937)">3</b></i><i style="width:16.65px"><b style="transform:translateX(-1.04px) scaleX(1.055)">0</b></i></div>
<div class="l" style="left:468.20px;top:356.19px"><span class="t" style="transform:scaleX(0.9582)">Тверская область –</span></div>
<div class="n" style="left:692.20px;top:354.80px;"><i style="width:15.40px"><b style="transform:translateX(-0.79px) scaleX(0.956)">2</b></i><i style="width:16.30px"><b style="transform:translateX(-0.84px) scaleX(1.014)">9</b></i></div>
<div class="l" style="left:468.20px;top:386.66px"><span class="t" style="transform:scaleX(0.9822)">Республика Марий Эл –</span></div>
<div class="n" style="left:748.45px;top:385.27px;"><i style="width:15.40px"><b style="transform:translateX(-0.79px) scaleX(0.956)">2</b></i><i style="width:16.30px"><b style="transform:translateX(-0.84px) scaleX(1.014)">9</b></i></div>
<div class="l" style="left:468.20px;top:417.13px"><span class="t" style="transform:scaleX(0.9857)">Оренбургская область –</span></div>
<div class="n" style="left:752.20px;top:415.74px;"><i style="width:15.60px"><b style="transform:translateX(-0.79px) scaleX(0.956)">2</b></i><i style="width:17.40px"><b style="transform:translateX(-0.80px) scaleX(1.058)">8</b></i></div>
<div class="l" style="left:468.20px;top:447.60px"><span class="t" style="transform:scaleX(0.9719)">Белгородская область –</span></div>
<div class="n" style="left:747.70px;top:446.21px;"><i style="width:15.60px"><b style="transform:translateX(-0.79px) scaleX(0.956)">2</b></i><i style="width:16.50px"><b style="transform:translateX(-0.90px) scaleX(1.017)">6</b></i></div>
<div class="l" style="left:468.20px;top:478.07px"><span class="t" style="transform:scaleX(0.9832)">Ставропольский край –</span></div>
<div class="n" style="left:742.20px;top:476.68px;"><i style="width:15.60px"><b style="transform:translateX(-0.79px) scaleX(0.956)">2</b></i><i style="width:16.50px"><b style="transform:translateX(-0.90px) scaleX(1.017)">6</b></i></div>
<div class="l" style="left:468.20px;top:508.54px"><span class="t" style="transform:scaleX(0.9800)">Липецкая область –</span></div>
<div class="n" style="left:702.20px;top:507.15px;"><i style="width:15.60px"><b style="transform:translateX(-0.79px) scaleX(0.956)">2</b></i><i style="width:15.25px"><b style="transform:translateX(-0.63px) scaleX(0.901)">5</b></i></div>
<div class="l" style="left:468.20px;top:539.01px"><span class="t" style="transform:scaleX(0.9849)">Кабардино-Балкария –</span></div>
<div class="n" style="left:737.95px;top:537.62px;"><i style="width:15.60px"><b style="transform:translateX(-0.79px) scaleX(0.956)">2</b></i><i style="width:15.25px"><b style="transform:translateX(-0.63px) scaleX(0.901)">5</b></i></div>
<div class="l" style="left:468.20px;top:569.48px"><span class="t" style="transform:scaleX(0.9848)">Карачаево-Черкессия –</span></div>
<div class="n" style="left:745.95px;top:568.09px;"><i style="width:15.40px"><b style="transform:translateX(-0.79px) scaleX(0.956)">2</b></i><i style="width:15.05px"><b style="transform:translateX(-0.63px) scaleX(0.901)">5</b></i></div>
<div class="l" style="left:468.20px;top:599.95px"><span class="t" style="transform:scaleX(0.9587)">Ульяновская область –</span></div>
<div class="n" style="left:732.20px;top:598.56px;"><i style="width:15.60px"><b style="transform:translateX(-0.79px) scaleX(0.956)">2</b></i><i style="width:15.25px"><b style="transform:translateX(-0.63px) scaleX(0.901)">5</b></i></div>
<div class="l" style="left:468.20px;top:630.42px"><span class="t" style="transform:scaleX(1.0070)">Ямало-Ненецкий АО –</span></div>
<div class="n" style="left:739.70px;top:629.03px;"><i style="width:15.40px"><b style="transform:translateX(-0.79px) scaleX(0.956)">2</b></i><i style="width:15.55px"><b style="transform:translateX(-0.45px) scaleX(0.937)">3</b></i></div>
<div class="l" style="left:468.20px;top:660.89px"><span class="t" style="transform:scaleX(1.0068)">Красноярский край –</span></div>
<div class="n" style="left:719.20px;top:659.50px;"><i style="width:15.55px"><b style="transform:translateX(-0.79px) scaleX(0.956)">2</b></i><i style="width:15.55px"><b style="transform:translateX(-0.79px) scaleX(0.956)">2</b></i></div>
<div class="l" style="left:468.20px;top:691.36px"><span class="t" style="transform:scaleX(0.9684)">Астраханская область –</span></div>
<div class="n" style="left:745.95px;top:689.97px;"><i style="width:15.60px"><b style="transform:translateX(-0.79px) scaleX(0.956)">2</b></i><i class="one" style="width:11.40px"><u style="top:5.10px;width:9.50px;height:19.95px"></u></i></div>
<div class="l" style="left:468.20px;top:721.83px"><span class="t" style="transform:scaleX(0.9678)">Волгоградская область –</span></div>
<div class="n" style="left:755.95px;top:720.44px;"><i style="width:15.60px"><b style="transform:translateX(-0.79px) scaleX(0.956)">2</b></i><i class="one" style="width:11.40px"><u style="top:5.10px;width:9.50px;height:19.95px"></u></i></div>
<div class="l" style="left:468.20px;top:752.30px"><span class="t" style="transform:scaleX(0.9861)">Пензенская область –</span></div>
<div class="n" style="left:727.70px;top:750.91px;"><i style="width:15.60px"><b style="transform:translateX(-0.79px) scaleX(0.956)">2</b></i><i class="one" style="width:11.40px"><u style="top:5.10px;width:9.50px;height:19.95px"></u></i></div>
<div class="l" style="left:468.20px;top:782.77px"><span class="t" style="transform:scaleX(0.9740)">Калининградская область –</span></div>
<div class="n" style="left:789.20px;top:781.38px;"><i class="one" style="width:11.40px"><u style="top:5.10px;width:9.50px;height:19.95px"></u></i><i style="width:17.40px"><b style="transform:translateX(-0.80px) scaleX(1.058)">8</b></i></div>
<div class="l" style="left:468.20px;top:813.24px"><span class="t" style="transform:scaleX(0.9778)">Чеченская Республика –</span></div>
<div class="n" style="left:754.20px;top:811.85px;"><i class="one" style="width:11.40px"><u style="top:5.10px;width:9.50px;height:19.95px"></u></i><i style="width:17.40px"><b style="transform:translateX(-0.80px) scaleX(1.058)">8</b></i></div>
<div class="l" style="left:468.20px;top:843.71px"><span class="t" style="transform:scaleX(0.9728)">Удмуртская Республика –</span></div>
<div class="n" style="left:764.70px;top:842.32px;"><i class="one" style="width:10.90px"><u style="top:5.10px;width:9.50px;height:19.95px"></u></i><i style="width:15.50px"><b style="transform:translateX(-1.08px) scaleX(1.010)">7</b></i></div>
<div class="l" style="left:468.20px;top:874.18px"><span class="t" style="transform:scaleX(0.9799)">Костромская область –</span></div>
<div class="n" style="left:739.20px;top:872.79px;"><i class="one" style="width:11.40px"><u style="top:5.10px;width:9.50px;height:19.95px"></u></i><i style="width:16.50px"><b style="transform:translateX(-0.90px) scaleX(1.017)">6</b></i></div>
<div class="l" style="left:468.20px;top:904.65px"><span class="t" style="transform:scaleX(0.9561)">Саратовская область –</span></div>
<div class="n" style="left:732.95px;top:903.26px;"><i class="one" style="width:11.40px"><u style="top:5.10px;width:9.50px;height:19.95px"></u></i><i style="width:16.50px"><b style="transform:translateX(-0.90px) scaleX(1.017)">6</b></i></div>
<div class="l" style="left:468.20px;top:935.12px"><span class="t" style="transform:scaleX(0.9627)">Тюменская область –</span></div>
<div class="n" style="left:715.20px;top:933.73px;"><i class="one" style="width:11.40px"><u style="top:5.10px;width:9.50px;height:19.95px"></u></i><i style="width:16.50px"><b style="transform:translateX(-0.90px) scaleX(1.017)">6</b></i></div>
<div class="l" style="left:468.20px;top:965.59px"><span class="t" style="transform:scaleX(0.9830)">Псковская область –</span></div>
<div class="n" style="left:711.70px;top:964.20px;"><i class="one" style="width:11.40px"><u style="top:5.10px;width:9.50px;height:19.95px"></u></i><i style="width:15.25px"><b style="transform:translateX(-0.63px) scaleX(0.901)">5</b></i></div>
<div class="l" style="left:468.20px;top:996.06px"><span class="t" style="transform:scaleX(0.9692)">Архангельская область –</span></div>
<div class="n" style="left:757.95px;top:994.67px;"><i class="one" style="width:10.85px"><u style="top:5.10px;width:9.50px;height:19.95px"></u></i><i style="width:17.25px"><b style="transform:translateX(-0.26px) scaleX(1.001)">4</b></i></div>
<div class="l" style="left:468.20px;top:1026.53px"><span class="t" style="transform:scaleX(0.9856)">Новгородская область –</span></div>
<div class="n" style="left:752.70px;top:1025.14px;"><i class="one" style="width:11.10px"><u style="top:5.10px;width:9.50px;height:19.95px"></u></i><i style="width:17.50px"><b style="transform:translateX(-0.26px) scaleX(1.001)">4</b></i></div>
<div class="l" style="left:899.45px;top:203.84px"><span class="t" style="transform:scaleX(0.9643)">Республика Татарстан –</span></div>
<div class="n" style="left:1177.20px;top:202.45px;"><i class="one" style="width:11.10px"><u style="top:5.10px;width:9.50px;height:19.95px"></u></i><i style="width:17.50px"><b style="transform:translateX(-0.26px) scaleX(1.001)">4</b></i></div>
<div class="l" style="left:899.45px;top:234.31px"><span class="t" style="transform:scaleX(0.9840)">Еврейская АО –</span></div>
<div class="n" style="left:1089.70px;top:232.92px;"><i class="one" style="width:11.10px"><u style="top:5.10px;width:9.50px;height:19.95px"></u></i><i style="width:17.50px"><b style="transform:translateX(-0.26px) scaleX(1.001)">4</b></i></div>
<div class="l" style="left:899.45px;top:264.78px"><span class="t" style="transform:scaleX(0.9652)">Смоленская область –</span></div>
<div class="n" style="left:1159.70px;top:263.39px;"><i class="one" style="width:11.40px"><u style="top:5.10px;width:9.50px;height:19.95px"></u></i><i class="one" style="width:11.40px"><u style="top:5.10px;width:9.50px;height:19.95px"></u></i></div>
<div class="l" style="left:899.45px;top:295.25px"><span class="t" style="transform:scaleX(0.9829)">Республика Коми –</span></div>
<div class="n" style="left:1125.20px;top:293.86px;"><i class="one" style="width:11.40px"><u style="top:5.10px;width:9.50px;height:19.95px"></u></i><i class="one" style="width:11.40px"><u style="top:5.10px;width:9.50px;height:19.95px"></u></i></div>
<div class="l" style="left:899.45px;top:325.72px"><span class="t" style="transform:scaleX(0.9756)">Республика Калмыкия –</span></div>
<div class="n" style="left:1178.95px;top:324.33px;"><i class="one" style="width:10.85px"><u style="top:5.10px;width:9.50px;height:19.95px"></u></i><i style="width:16.25px"><b style="transform:translateX(-1.04px) scaleX(1.055)">0</b></i></div>
<div class="l" style="left:899.45px;top:356.19px"><span class="t" style="transform:scaleX(0.9726)">Вологодская область –</span></div>
<div class="n" style="left:1165.95px;top:354.80px;"><i style="width:15.80px"><b style="transform:translateX(-0.84px) scaleX(1.014)">9</b></i></div>
<div class="l" style="left:899.45px;top:386.66px"><span class="t" style="transform:scaleX(0.9730)">Кемеровская область –</span></div>
<div class="n" style="left:1170.95px;top:385.27px;"><i style="width:15.80px"><b style="transform:translateX(-0.84px) scaleX(1.014)">9</b></i></div>
<div class="l" style="left:899.45px;top:417.13px"><span class="t" style="transform:scaleX(0.9777)">Забайкальский край –</span></div>
<div class="n" style="left:1155.95px;top:415.74px;"><i style="width:15.80px"><b style="transform:translateX(-0.84px) scaleX(1.014)">9</b></i></div>
<div class="l" style="left:899.45px;top:447.60px"><span class="t" style="transform:scaleX(0.9582)">Республика Саха (Якутия) –</span></div>
<div class="n" style="left:1218.45px;top:446.21px;"><i style="width:15.80px"><b style="transform:translateX(-0.84px) scaleX(1.014)">9</b></i></div>
<div class="l" style="left:899.45px;top:478.07px"><span class="t" style="transform:scaleX(0.9764)">Ивановская область –</span></div>
<div class="n" style="left:1157.70px;top:476.68px;"><i style="width:16.70px"><b style="transform:translateX(-0.80px) scaleX(1.058)">8</b></i></div>
<div class="l" style="left:899.45px;top:508.54px"><span class="t" style="transform:scaleX(1.0018)">Алтайский край –</span></div>
<div class="n" style="left:1109.20px;top:507.15px;"><i style="width:16.70px"><b style="transform:translateX(-0.80px) scaleX(1.058)">8</b></i></div>
<div class="l" style="left:899.45px;top:539.01px"><span class="t" style="transform:scaleX(0.9542)">Томская область –</span></div>
<div class="n" style="left:1112.20px;top:537.62px;"><i style="width:15.30px"><b style="transform:translateX(-1.08px) scaleX(1.010)">7</b></i></div>
<div class="l" style="left:899.45px;top:569.48px"><span class="t" style="transform:scaleX(0.9882)">Камчатский край –</span></div>
<div class="n" style="left:1119.20px;top:568.09px;"><i style="width:15.80px"><b style="transform:translateX(-0.90px) scaleX(1.017)">6</b></i></div>
<div class="l" style="left:899.45px;top:599.95px"><span class="t" style="transform:scaleX(0.9853)">Иркутская область –</span></div>
<div class="n" style="left:1141.70px;top:598.56px;"><i style="width:14.55px"><b style="transform:translateX(-0.63px) scaleX(0.901)">5</b></i></div>
<div class="l" style="left:899.45px;top:630.42px"><span class="t" style="transform:scaleX(1.0232)">Чукотский АО –</span></div>
<div class="n" style="left:1090.20px;top:629.03px;"><i style="width:14.55px"><b style="transform:translateX(-0.63px) scaleX(0.901)">5</b></i></div>
<div class="l" style="left:899.45px;top:660.89px"><span class="t" style="transform:scaleX(0.9762)">Республика Бурятия –</span></div>
<div class="n" style="left:1157.20px;top:659.50px;"><i style="width:17.10px"><b style="transform:translateX(-0.26px) scaleX(1.001)">4</b></i></div>
<div class="l" style="left:899.45px;top:691.36px"><span class="t" style="transform:scaleX(0.9661)">Республика Адыгея –</span></div>
<div class="n" style="left:1146.70px;top:689.97px;"><i style="width:15.05px"><b style="transform:translateX(-0.45px) scaleX(0.937)">3</b></i></div>
<div class="l" style="left:899.45px;top:721.83px"><span class="t" style="transform:scaleX(0.9695)">Республика Хакасия –</span></div>
<div class="n" style="left:1157.70px;top:720.44px;"><i style="width:15.05px"><b style="transform:translateX(-0.45px) scaleX(0.937)">3</b></i></div>
<div class="l" style="left:899.45px;top:752.30px"><span class="t" style="transform:scaleX(0.9719)">Амурская область –</span></div>
<div class="n" style="left:1131.70px;top:750.91px;"><i style="width:15.05px"><b style="transform:translateX(-0.45px) scaleX(0.937)">3</b></i></div>
<div class="l" style="left:899.45px;top:782.77px"><span class="t" style="transform:scaleX(0.9771)">Республика Карелия –</span></div>
<div class="n" style="left:1160.95px;top:781.38px;"><i style="width:14.90px"><b style="transform:translateX(-0.79px) scaleX(0.956)">2</b></i></div>
<div class="l" style="left:899.45px;top:813.24px"><span class="t" style="transform:scaleX(0.9670)">Курганская область –</span></div>
<div class="n" style="left:1147.20px;top:811.85px;"><i style="width:14.90px"><b style="transform:translateX(-0.79px) scaleX(0.956)">2</b></i></div>
<div class="l" style="left:899.45px;top:843.71px"><span class="t" style="transform:scaleX(1.0155)">Ханты-Мансийский АО –</span></div>
<div class="n" style="left:1196.70px;top:842.32px;"><i style="width:14.90px"><b style="transform:translateX(-0.79px) scaleX(0.956)">2</b></i></div>
<div class="l" style="left:899.45px;top:874.18px"><span class="t" style="transform:scaleX(0.9576)">Магаданская область –</span></div>
<div class="n" style="left:1166.45px;top:872.79px;"><i style="width:14.90px"><b style="transform:translateX(-0.79px) scaleX(0.956)">2</b></i></div>
<div class="l" style="left:899.45px;top:904.65px"><span class="t" style="transform:scaleX(0.9744)">Республика Крым –</span></div>
<div class="n" style="left:1127.70px;top:903.26px;"><i style="width:14.90px"><b style="transform:translateX(-0.79px) scaleX(0.956)">2</b></i></div>
<div class="l" style="left:899.45px;top:935.12px"><span class="t" style="transform:scaleX(0.9450)">Республика Тыва –</span></div>
<div class="n" style="left:1116.70px;top:933.73px;"><i class="one" style="width:10.70px"><u style="top:5.10px;width:9.50px;height:19.95px"></u></i></div>
<div class="l" style="left:899.45px;top:965.59px"><span class="t" style="transform:scaleX(0.9622)">Омская область –</span></div>
<div class="n" style="left:1107.20px;top:964.20px;"><i class="one" style="width:10.70px"><u style="top:5.10px;width:9.50px;height:19.95px"></u></i></div>
<div class="l" style="left:899.45px;top:996.06px"><span class="t" style="transform:scaleX(0.9543)">Сахалинская область –</span></div>
<div class="n" style="left:1166.45px;top:994.67px;"><i class="one" style="width:10.70px"><u style="top:5.10px;width:9.50px;height:19.95px"></u></i></div>
<svg id="logo" viewBox="0 0 1280 1141">
<text x="514.84" y="1110.25" textLength="26.32" lengthAdjust="spacingAndGlyphs" style="font-family:'Liberation Sans',sans-serif;font-weight:bold;font-size:18.6px" fill="#e9663f" stroke="#e9663f" stroke-width="1.9" stroke-linejoin="round">СТ</text>
<text x="575.39" y="1110.25" textLength="15.73" lengthAdjust="spacingAndGlyphs" style="font-family:'Liberation Sans',sans-serif;font-weight:bold;font-size:18.6px" fill="#e9663f" stroke="#e9663f" stroke-width="1.9" stroke-linejoin="round">П</text>
<text x="592.07" y="1110.25" textLength="147.60" lengthAdjust="spacingAndGlyphs" style="font-family:'Liberation Sans',sans-serif;font-weight:bold;font-size:18.6px" fill="#1f427f" stroke="#1f427f" stroke-width="1.9" stroke-linejoin="round">КОРОНАВИРУС</text>
<rect x="742" y="1107.2" width="3.9" height="4" fill="#e9663f"/>
<text x="746.66" y="1110.25" textLength="27.11" lengthAdjust="spacingAndGlyphs" style="font-family:'Liberation Sans',sans-serif;font-weight:bold;font-size:18.6px" fill="#e9663f" stroke="#e9663f" stroke-width="1.9" stroke-linejoin="round">РФ</text>
<circle cx="558.5" cy="1103.6" r="12.6" fill="none" stroke="#e9663f" stroke-width="3.5"/>
<circle cx="558.5" cy="1103.6" r="5.2" fill="#1f427f"/>
<line x1="562.42" y1="1104.39" x2="566.44" y2="1105.21" stroke="#1f427f" stroke-width="1.4" stroke-linecap="round"/>
<circle cx="566.83" cy="1105.29" r="1.2" fill="#1f427f"/>
<line x1="561.20" y1="1106.55" x2="563.98" y2="1109.57" stroke="#1f427f" stroke-width="1.4" stroke-linecap="round"/>
<circle cx="564.25" cy="1109.86" r="1.2" fill="#1f427f"/>
<line x1="558.96" y1="1107.57" x2="559.42" y2="1111.65" stroke="#1f427f" stroke-width="1.4" stroke-linecap="round"/>
<circle cx="559.47" cy="1112.04" r="1.2" fill="#1f427f"/>
<line x1="556.53" y1="1107.08" x2="554.52" y2="1110.65" stroke="#1f427f" stroke-width="1.4" stroke-linecap="round"/>
<circle cx="554.32" cy="1111.00" r="1.2" fill="#1f427f"/>
<line x1="554.86" y1="1105.26" x2="551.13" y2="1106.96" stroke="#1f427f" stroke-width="1.4" stroke-linecap="round"/>
<circle cx="550.77" cy="1107.13" r="1.2" fill="#1f427f"/>
<line x1="554.58" y1="1102.81" x2="550.56" y2="1101.99" stroke="#1f427f" stroke-width="1.4" stroke-linecap="round"/>
<circle cx="550.17" cy="1101.91" r="1.2" fill="#1f427f"/>
<line x1="555.80" y1="1100.65" x2="553.02" y2="1097.63" stroke="#1f427f" stroke-width="1.4" stroke-linecap="round"/>
<circle cx="552.75" cy="1097.34" r="1.2" fill="#1f427f"/>
<line x1="558.04" y1="1099.63" x2="557.58" y2="1095.55" stroke="#1f427f" stroke-width="1.4" stroke-linecap="round"/>
<circle cx="557.53" cy="1095.16" r="1.2" fill="#1f427f"/>
<line x1="560.47" y1="1100.12" x2="562.48" y2="1096.55" stroke="#1f427f" stroke-width="1.4" stroke-linecap="round"/>
<circle cx="562.68" cy="1096.20" r="1.2" fill="#1f427f"/>
<line x1="562.14" y1="1101.94" x2="565.87" y2="1100.24" stroke="#1f427f" stroke-width="1.4" stroke-linecap="round"/>
<circle cx="566.23" cy="1100.07" r="1.2" fill="#1f427f"/>
<line x1="549.8" y1="1094.8999999999999" x2="567.2" y2="1112.3" stroke="#e9663f" stroke-width="3.8"/>
</svg>
</body>
</html>
